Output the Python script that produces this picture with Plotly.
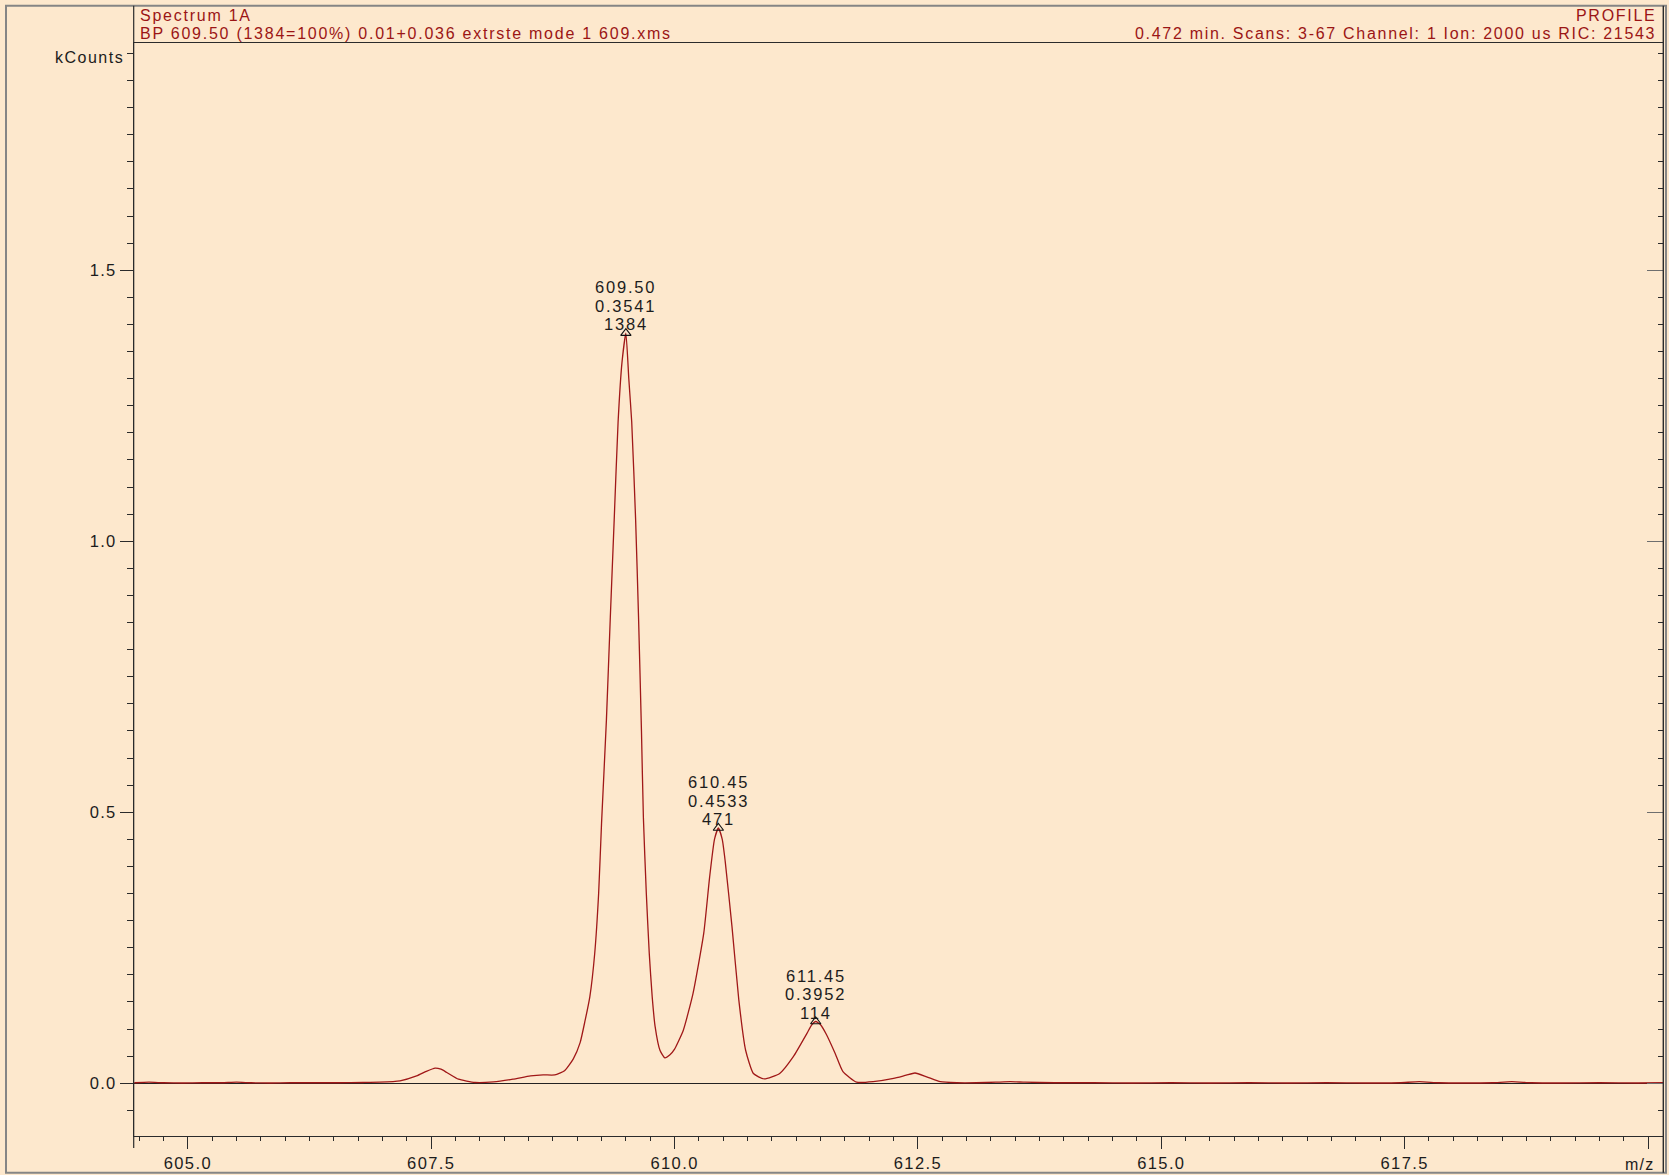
import plotly.graph_objects as go

# ---- spectrum profile (m/z vs. intensity in kCounts) ----
mz = [604.45, 604.60, 604.75, 604.95, 605.15, 605.35, 605.50, 605.65, 605.85, 606.05,
      606.30, 606.55, 606.80, 606.97, 607.18, 607.35, 607.45, 607.54, 607.60, 607.66,
      607.78, 607.95, 608.14, 608.34, 608.52, 608.65, 608.77, 608.87, 608.96, 609.03,
      609.08, 609.13, 609.18, 609.22, 609.25, 609.30, 609.34, 609.38, 609.42, 609.46,
      609.50, 609.53, 609.56, 609.60, 609.63, 609.66, 609.68, 609.71, 609.74, 609.77,
      609.80, 609.85, 609.90, 609.95, 610.00, 610.09, 610.19, 610.30, 610.36, 610.41,
      610.45, 610.49, 610.52, 610.59, 610.66, 610.73, 610.81, 610.92, 611.08, 611.22,
      611.36, 611.41, 611.45, 611.50, 611.56, 611.65, 611.73, 611.87, 612.04, 612.25,
      612.38, 612.47, 612.59, 612.73, 612.90, 613.10, 613.30, 613.45, 613.60, 613.90,
      614.30, 614.70, 615.10, 615.50, 615.90, 616.30, 616.70, 617.10, 617.45, 617.65,
      617.85, 618.10, 618.40, 618.60, 618.80, 619.10, 619.50, 619.90, 620.16]
kcounts = [0.001, 0.002, 0.001, 0.0005, 0.001, 0.001, 0.002, 0.001, 0.0005, 0.001,
           0.001, 0.001, 0.0015, 0.002, 0.0045, 0.0135, 0.022, 0.028, 0.026, 0.020,
           0.0075, 0.0015, 0.0025, 0.0075, 0.0135, 0.0155, 0.0155, 0.023, 0.045, 0.075,
           0.115, 0.16, 0.24, 0.35, 0.48, 0.67, 0.86, 1.04, 1.22, 1.33,
           1.384, 1.30, 1.22, 1.04, 0.86, 0.65, 0.49, 0.35, 0.24, 0.16,
           0.105, 0.061, 0.047, 0.052, 0.063, 0.098, 0.166, 0.277, 0.38, 0.45,
           0.471, 0.45, 0.41, 0.289, 0.154, 0.061, 0.018, 0.008, 0.018, 0.049,
           0.092, 0.108, 0.114, 0.108, 0.090, 0.055, 0.0215, 0.002, 0.003, 0.009,
           0.015, 0.019, 0.012, 0.003, 0.001, 0.001, 0.002, 0.003, 0.002, 0.001,
           0.001, 0.0005, 0.001, 0.0005, 0.001, 0.0005, 0.001, 0.0005, 0.001, 0.003,
           0.001, 0.0005, 0.001, 0.003, 0.001, 0.0005, 0.001, 0.0005, 0.001]

# ---- labelled peaks ----
peak_mz = [609.50, 610.45, 611.45]
peak_counts = [1384, 471, 114]
peak_kcounts = [1.384, 0.471, 0.114]
peak_second = ["0.3541", "0.4533", "0.3952"]

header_left = ["Spectrum 1A", "BP 609.50 (1384=100%) 0.01+0.036 extrste mode 1 609.xms"]
header_right = ["PROFILE", "0.472 min. Scans: 3-67 Channel: 1 Ion: 2000 us RIC: 21543"]

x_major = [605.0, 607.5, 610.0, 612.5, 615.0, 617.5, 620.0]
y_major = [0.0, 0.5, 1.0, 1.5]

X_RANGE = [604.444, 620.157]
Y_RANGE = [-0.0967, 1.9188]

# ---- page geometry (pixels) ----
W, H = 1669, 1175
PL, PR, PT, PB = 133.7, 1663.3, 43.3, 1135.7   # plot box
FL, FR, FT, FB = 6.0, 1666.0, 5.7, 1172.7       # outer frame

BG = "#FDE8CD"
RED = "#9B1515"
AXC = "#2b2b2b"
TXT = "#1c1c1c"
FONT = "Liberation Sans, Arial, sans-serif"


def px(x):
    return x / W


def py(y):
    return 1 - y / H


def spaced(text, ls=1.6):
    """Wrap text in a tracked span (the instrument font is widely spaced)."""
    return f"<span style='letter-spacing:{ls}px'>{text}</span>"


fig = go.Figure()

fig.add_trace(go.Scatter(
    x=mz, y=kcounts, mode="lines",
    line=dict(color="#A01818", width=1.3, shape="spline", smoothing=0.5),
    hoverinfo="x+y", showlegend=False,
))

# open triangles marking the labelled peaks
fig.add_trace(go.Scatter(
    x=peak_mz, y=peak_kcounts, mode="markers",
    marker=dict(symbol="triangle-up-open", size=9, color="#111", line=dict(width=1.1, color="#111")),
    showlegend=False, hoverinfo="skip",
))

# carrier for the right-hand axis
fig.add_trace(go.Scatter(
    x=[mz[0]], y=[kcounts[0]], yaxis="y2", mode="lines",
    line=dict(width=0), showlegend=False, hoverinfo="skip",
))

annotations = []
for m, k, c, s in zip(peak_mz, peak_kcounts, peak_counts, peak_second):
    for txt, shift in ((f"{m:.2f}", 46), (s, 27.5), (f"{c}", 9)):
        annotations.append(dict(
            x=m, y=k, xref="x", yref="y", text=spaced(txt, 1.8), showarrow=False,
            xanchor="center", yanchor="middle", yshift=shift,
            font=dict(family=FONT, size=16.5, color=TXT),
        ))

for i, (lt, rt) in enumerate(zip(header_left, header_right)):
    yc = [15.7, 33.3][i]
    annotations.append(dict(
        x=px(PL + 4.5), y=py(yc), xref="paper", yref="paper", text=spaced(lt, 1.75), showarrow=False,
        xanchor="left", yanchor="middle", font=dict(family=FONT, size=16, color=RED),
    ))
    annotations.append(dict(
        x=px(PR - 5), y=py(yc), xref="paper", yref="paper", text=spaced(rt, 1.7), showarrow=False,
        xanchor="right", yanchor="middle", font=dict(family=FONT, size=16, color=RED),
    ))

annotations.append(dict(
    x=px(126), y=py(57.3), xref="paper", yref="paper", text=spaced("kCounts", 1.5), showarrow=False,
    xanchor="right", yanchor="middle", font=dict(family=FONT, size=16, color=TXT),
))
annotations.append(dict(
    x=px(1656), y=py(1164), xref="paper", yref="paper", text=spaced("m/z", 1.2), showarrow=False,
    xanchor="right", yanchor="middle", font=dict(family=FONT, size=16, color=TXT),
))

shapes = [
    # outer frame
    dict(type="rect", xref="paper", yref="paper", x0=px(FL), x1=px(FR), y0=py(FB), y1=py(FT),
         line=dict(color="#858585", width=2), layer="below"),
    # left axis runs from the frame top to below the m/z axis
    dict(type="line", xref="paper", yref="paper", x0=px(PL), x1=px(PL), y0=py(FT), y1=py(1148),
         line=dict(color=AXC, width=1.2)),
    # right axis spans the whole frame height
    dict(type="line", xref="paper", yref="paper", x0=px(PR), x1=px(PR), y0=py(FT), y1=py(FB),
         line=dict(color=AXC, width=1.4)),
]

tickfont = dict(family=FONT, size=16.5, color=TXT)
# tracked tick labels; the 620.0 tick carries no label (m/z sits there)
x_alias = {f"{v:.1f}": spaced(f"{v:.1f}", 1.4) for v in x_major}
x_alias["620.0"] = ""
y_alias = {f"{v:.1f}": spaced(f"{v:.1f}", 1.2) for v in y_major}

fig.update_layout(
    width=W, height=H,
    margin=dict(l=0, r=0, t=0, b=0),
    paper_bgcolor=BG, plot_bgcolor=BG,
    annotations=annotations, shapes=shapes,
    showlegend=False,
    xaxis=dict(
        domain=[px(PL), px(PR)], range=X_RANGE,
        showline=True, linecolor=AXC, linewidth=1.2, mirror=True,
        showgrid=False, zeroline=False,
        tickmode="linear", tick0=x_major[0], dtick=x_major[1] - x_major[0], tickformat=".1f",
        labelalias=x_alias,
        ticks="outside", ticklen=12, tickwidth=1, tickcolor=AXC,
        tickfont=tickfont,
        minor=dict(tickmode="linear", tick0=605, dtick=0.25, ticks="outside",
                   ticklen=4, tickwidth=1, tickcolor=AXC, showgrid=False),
    ),
    yaxis=dict(
        domain=[py(PB), py(PT)], range=Y_RANGE,
        showline=True, linecolor=AXC, linewidth=1.2,
        showgrid=False,
        zeroline=True, zerolinecolor="#222", zerolinewidth=1.2,
        tickmode="linear", tick0=0, dtick=y_major[1] - y_major[0], tickformat=".1f",
        labelalias=y_alias,
        ticks="outside", ticklen=13, tickwidth=1, tickcolor=AXC,
        tickfont=tickfont, ticklabelstandoff=0,
        minor=dict(tickmode="linear", tick0=0, dtick=0.05, ticks="outside",
                   ticklen=6, tickwidth=1, tickcolor=AXC, showgrid=False),
    ),
    yaxis2=dict(
        overlaying="y", side="right", anchor="x", range=Y_RANGE,
        showline=False, showgrid=False, zeroline=False,
        showticklabels=False,
        tickmode="linear", tick0=0, dtick=0.5,
        ticks="inside", ticklen=16, tickwidth=1, tickcolor="#6e6e6e",
        minor=dict(tickmode="linear", tick0=0, dtick=0.05, ticks="inside",
                   ticklen=5, tickwidth=1, tickcolor=AXC, showgrid=False),
    ),
)

fig.write_html("out.html")
